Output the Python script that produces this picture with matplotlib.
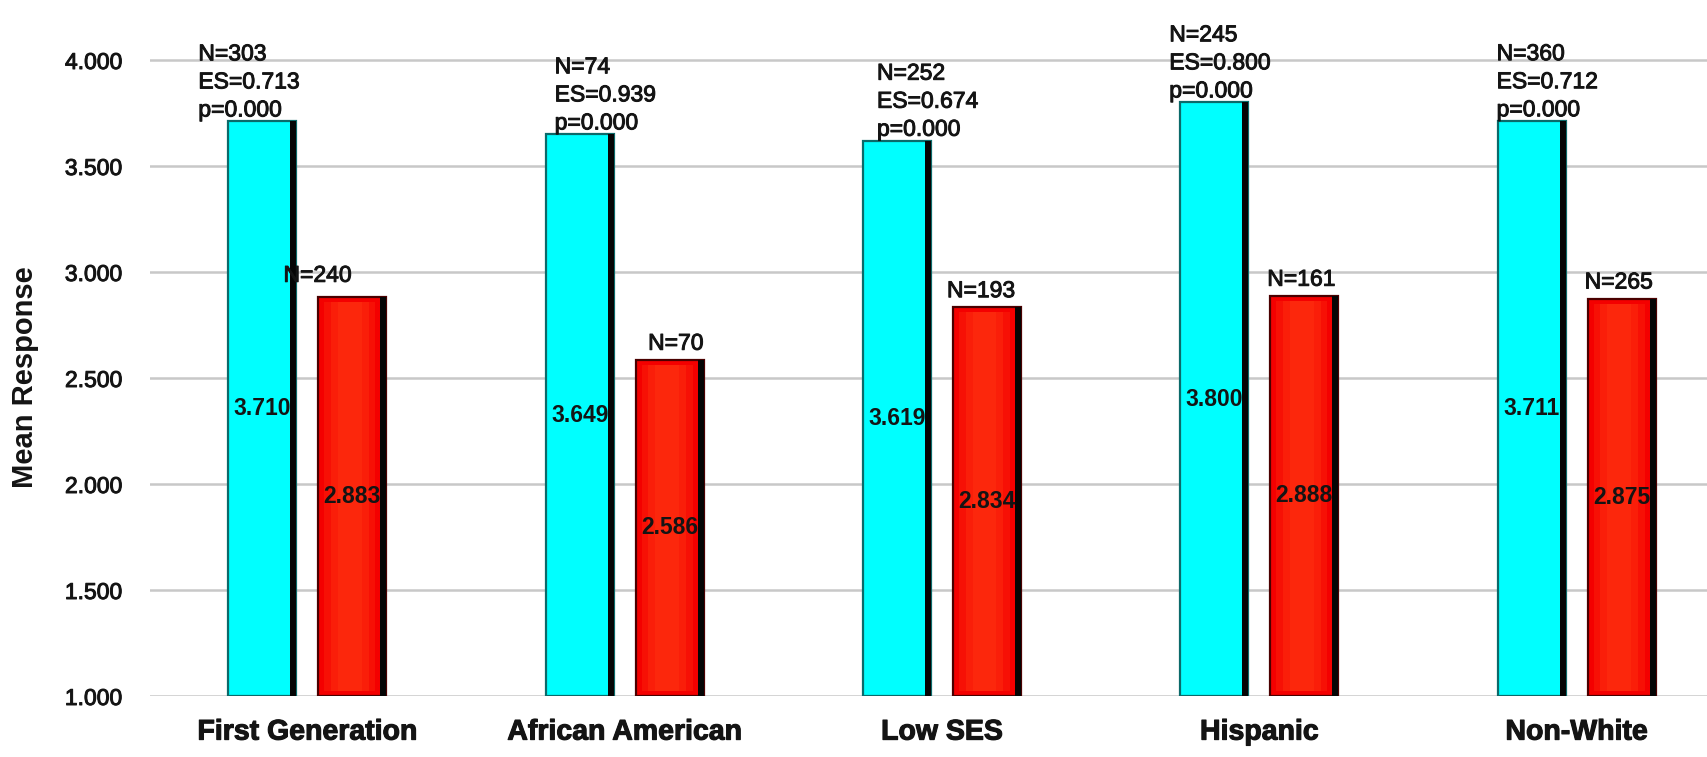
import matplotlib
matplotlib.use("Agg")
import matplotlib.pyplot as plt
import matplotlib.patheffects as pe
import numpy as np

# ---- data -------------------------------------------------------------
groups = ["First Generation", "African American", "Low SES", "Hispanic", "Non-White"]
cyan_means = [3.710, 3.649, 3.619, 3.800, 3.711]
red_means = [2.883, 2.586, 2.834, 2.888, 2.875]
cyan_n = [303, 74, 252, 245, 360]
red_n = [240, 70, 193, 161, 265]
effect_sizes = [0.713, 0.939, 0.674, 0.800, 0.712]
p_values = [0.000, 0.000, 0.000, 0.000, 0.000]
y_ticks = [1.0, 1.5, 2.0, 2.5, 3.0, 3.5, 4.0]

# label nudges (pixels) so the annotations sit as in the slide
note_dx = [-30, 9, 14, -11, -1]
red_dx = [-35, 6, -6, -3, -3]
red_dy = [10, 5, 5, 5, 5]

plt.rcParams["font.family"] = ["Liberation Sans", "DejaVu Sans"]
TXT = "#141414"
heavy = [pe.withStroke(linewidth=0.7, foreground=TXT)]

W, H, DPI = 1708, 757, 100
fig = plt.figure(figsize=(W / DPI, H / DPI), dpi=DPI)
left_px, bottom_px = 150, 696
ax = fig.add_axes([left_px / W, 1 - bottom_px / H, 1 - left_px / W, bottom_px / H])

base = 1.0
px_per_unit_y = 212.0
ax.set_ylim(base, base + bottom_px / px_per_unit_y)
ax.set_xlim(-0.496, 4.414)

x = np.arange(len(groups))
w = 0.2143      # bar width (data units)
off = 0.1419    # half distance between paired bars
sw = 0.019      # width of the dark side shade

cyan = np.array(cyan_means)
red = np.array(red_means)

# cyan bars with dark right-hand shade
ax.bar(x - off, cyan - base, width=w, bottom=base, color="#00FFFF",
       edgecolor="#0b6a6a", linewidth=1.6, zorder=3)
ax.bar(x - off + w / 2 - sw / 2, cyan - base, width=sw, bottom=base,
       color="#050505", linewidth=0, zorder=4)

# red bars with a soft lighter centre band and dark right-hand shade
ax.bar(x + off, red - base, width=w, bottom=base, color="#F40000",
       edgecolor="#4a0000", linewidth=1.6, zorder=3)
for frac, alpha in [(0.75, 0.35), (0.55, 0.45), (0.35, 0.5)]:
    ax.bar(x + off - 0.008, red - base - 0.05, width=w * frac, bottom=base + 0.025,
           color="#FF3010", alpha=alpha, linewidth=0, zorder=4)
ax.bar(x + off + w / 2 - sw / 2, red - base, width=sw, bottom=base,
       color="#050505", linewidth=0, zorder=5)

# values inside bars
for xi, v in zip(x - off, cyan):
    ax.text(xi, (base + v) / 2, f"{v:.3f}", ha="center", va="center",
            fontsize=16.5, fontweight="bold", color=TXT, zorder=6)
for xi, v in zip(x + off, red):
    ax.text(xi, (base + v) / 2, f"{v:.3f}", ha="center", va="center",
            fontsize=16.5, fontweight="bold", color=TXT, zorder=6)

# N / effect size / p above the cyan bars
for i, (xi, v) in enumerate(zip(x - off, cyan)):
    txt = f"N={cyan_n[i]}\nES={effect_sizes[i]:.3f}\np={p_values[i]:.3f}"
    ax.annotate(txt, xy=(xi - w / 2, v), xytext=(note_dx[i] * 0.72, 0),
                textcoords="offset points", ha="left", va="bottom",
                fontsize=16.5, linespacing=1.28, color=TXT, zorder=7,
                annotation_clip=False, path_effects=heavy)

# N above the red bars
for i, (xi, v) in enumerate(zip(x + off, red)):
    ax.annotate(f"N={red_n[i]}", xy=(xi, v),
                xytext=(red_dx[i] * 0.72, red_dy[i] * 0.72),
                textcoords="offset points", ha="center", va="bottom",
                fontsize=16.5, color=TXT, zorder=7, annotation_clip=False,
                path_effects=heavy)

# axes styling
ax.set_yticks(y_ticks)
ax.set_yticklabels([f"{t:.3f}" for t in y_ticks])
ax.set_xticks(x)
ax.set_xticklabels(groups, fontweight="bold", fontsize=20.5)
ax.tick_params(axis="y", length=0, pad=20, labelsize=16.5, labelcolor=TXT)
ax.tick_params(axis="x", length=0, pad=17, labelcolor=TXT)
for lbl in ax.get_yticklabels():
    lbl.set_path_effects(heavy)
for lbl in ax.get_xticklabels():
    lbl.set_path_effects([pe.withStroke(linewidth=0.8, foreground=TXT)])
for s in ax.spines.values():
    s.set_visible(False)
ax.yaxis.grid(True, color="#c8c8c8", linewidth=1.8)
ax.set_axisbelow(True)

fig.text(25 / W, 0.502, "Mean Response", rotation=90, fontsize=21,
         fontweight="bold", ha="center", va="center", color=TXT)

fig.savefig("out.png", dpi=DPI, facecolor="white")
